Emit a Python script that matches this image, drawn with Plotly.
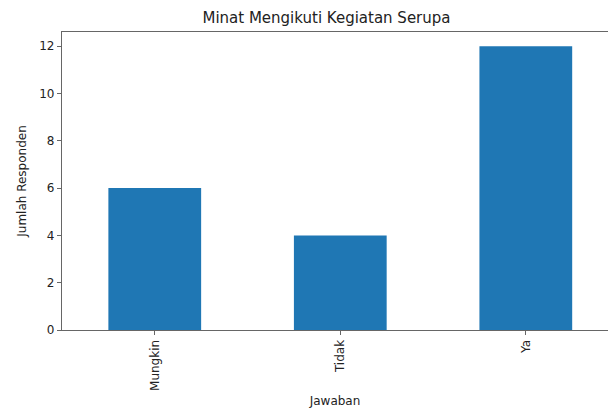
import plotly.graph_objects as go

categories = ["Mungkin", "Tidak", "Ya"]
values = [6, 4, 12]
y_ticks = [0, 2, 4, 6, 8, 10, 12]

fig = go.Figure()
fig.add_trace(go.Bar(
    x=list(range(len(categories))), y=values,
    width=0.5, marker=dict(color="#1f77b4", line=dict(width=0)),
))

axis_color = "#666666"
fig.update_layout(
    width=608, height=408,
    margin=dict(l=62, r=0, t=32, b=78),
    paper_bgcolor="white", plot_bgcolor="white",
    font=dict(family="DejaVu Sans", color="#222222"),
    showlegend=False,
    title=dict(text="Minat Mengikuti Kegiatan Serupa", x=0.537, xanchor="center",
               y=1 - 18 / 408, yanchor="middle", font=dict(size=15, color="#222222")),
    xaxis=dict(
        range=[-0.5, 2.443], tickmode="array",
        tickvals=list(range(len(categories))), ticktext=categories,
        tickangle=-90, ticks="outside", ticklen=4, tickcolor=axis_color,
        showline=True, linecolor=axis_color, linewidth=1.2, mirror=True,
        showgrid=False, zeroline=False, tickfont=dict(size=12),
        title=dict(text="Jawaban", font=dict(size=12), standoff=6),
    ),
    yaxis=dict(
        range=[0, 12.6], tickvals=y_ticks,
        ticks="outside", ticklen=4, tickcolor=axis_color,
        showline=True, linecolor=axis_color, linewidth=1.2,
        showgrid=False, zeroline=False, tickfont=dict(size=12),
        title=dict(text="Jumlah Responden", font=dict(size=12), standoff=10),
    ),
)

fig.write_html(
    "out.html",
    config={"displayModeBar": False},
    post_script="document.body.style.margin='0';document.body.style.overflow='hidden';",
)
